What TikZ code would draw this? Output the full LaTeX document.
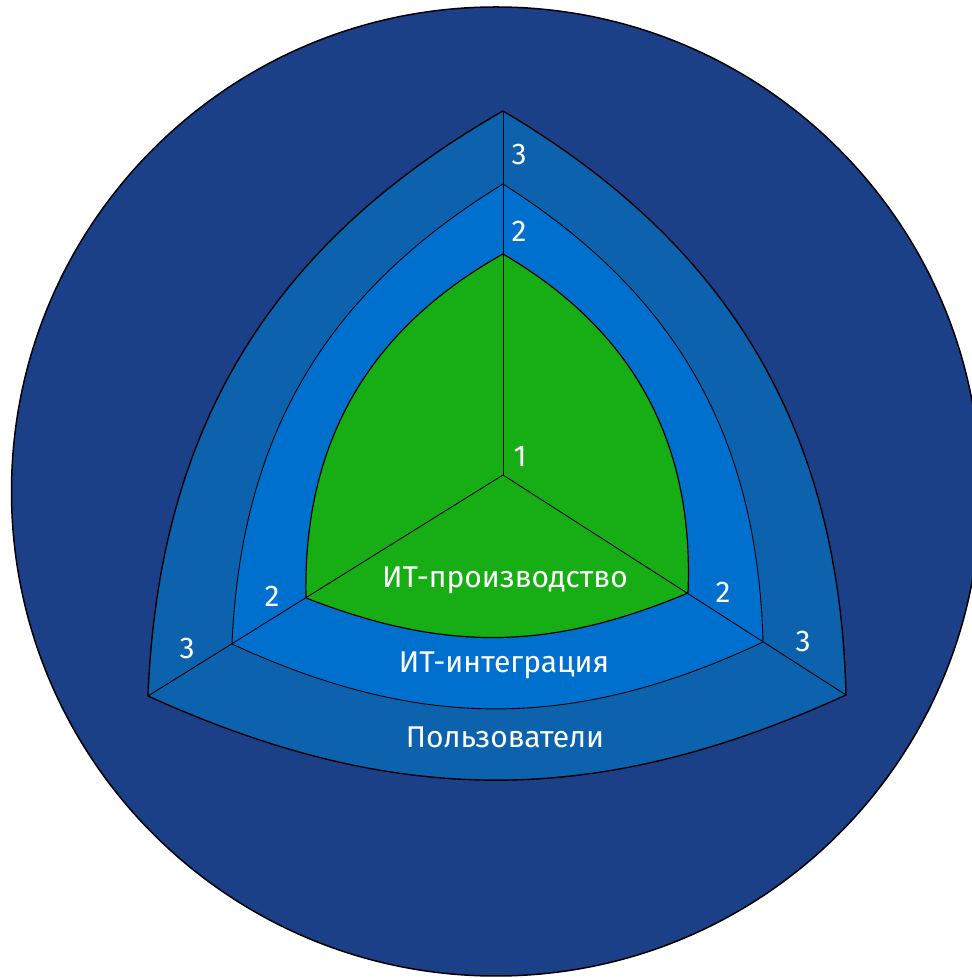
\documentclass[tikz,border=0pt]{standalone}
\usepackage{fontspec}
\setmainfont{Fira Sans}
\definecolor{navy}{HTML}{1B4088}
\definecolor{ringthree}{HTML}{0C62AC}
\definecolor{ringtwo}{HTML}{0070CE}
\definecolor{ringone}{HTML}{17AE15}
\begin{document}
\begin{tikzpicture}[
  x=1pt, y=1pt, % pixel size
  line join=round,
  lbl/.style={text=white, font=\fontsize{30}{31}\selectfont, inner sep=0pt, anchor=base}
]
  % ---- canvas ----
  \useasboundingbox (0,0) rectangle (972,978);
  \clip (0,0) rectangle (972,978);
  \fill[white] (0,0) rectangle (972,978);

  % ---- big circle ----
  \draw[fill=navy, line width=1.5] (496,486.5) circle (484.5);

  % ---- corners of the three layers ----
  \coordinate (C) at (503,503);
  \coordinate (T3) at (503,867);
  \coordinate (L3) at (148,282);
  \coordinate (R3) at (846,283);
  \coordinate (T2) at (503,794);
  \coordinate (L2) at (232,334);
  \coordinate (R2) at (763,336);
  \coordinate (T1) at (503,724);
  \coordinate (L1) at (306,380);
  \coordinate (R1) at (688,385);

  % ---- layers, outside in ----
  \draw[fill=ringthree, line width=1.4]
    (T3) to[bend right=29] (L3) to[bend right=24.5] (R3) to[bend right=29] (T3) -- cycle;
  \draw[fill=ringtwo, line width=0.9]
    (T2) to[bend right=28] (L2) to[bend right=25] (R2) to[bend right=28] (T2) -- cycle;
  \draw[fill=ringone, line width=1.2]
    (T1) to[bend right=31] (L1) to[bend right=22] (R1) to[bend right=31] (T1) -- cycle;

  % ---- spokes ----
  \foreach \v in {T3,L3,R3} {
    \draw[line width=0.9] (C) -- (\v);
  }

  % ---- level numbers ----
  \foreach \name/\x/\y/\txt in {
    topthree/519/813/3, toptwo/519/736/2, one/520/511/1,
    lefttwo/272/371/2, leftthree/187/319/3,
    righttwo/723/375.5/2, rightthree/803/326/3
  }{
    \node[lbl] (\name) at (\x,\y) {\txt};
  }

  % ---- layer names ----
  \node[lbl] (prod) at (505,390) {ИТ-производство};
  \node[lbl] (integ) at (504,305) {ИТ-интеграция};
  \node[lbl] (users) at (505,230) {Пользователи};

\end{tikzpicture}
\end{document}
